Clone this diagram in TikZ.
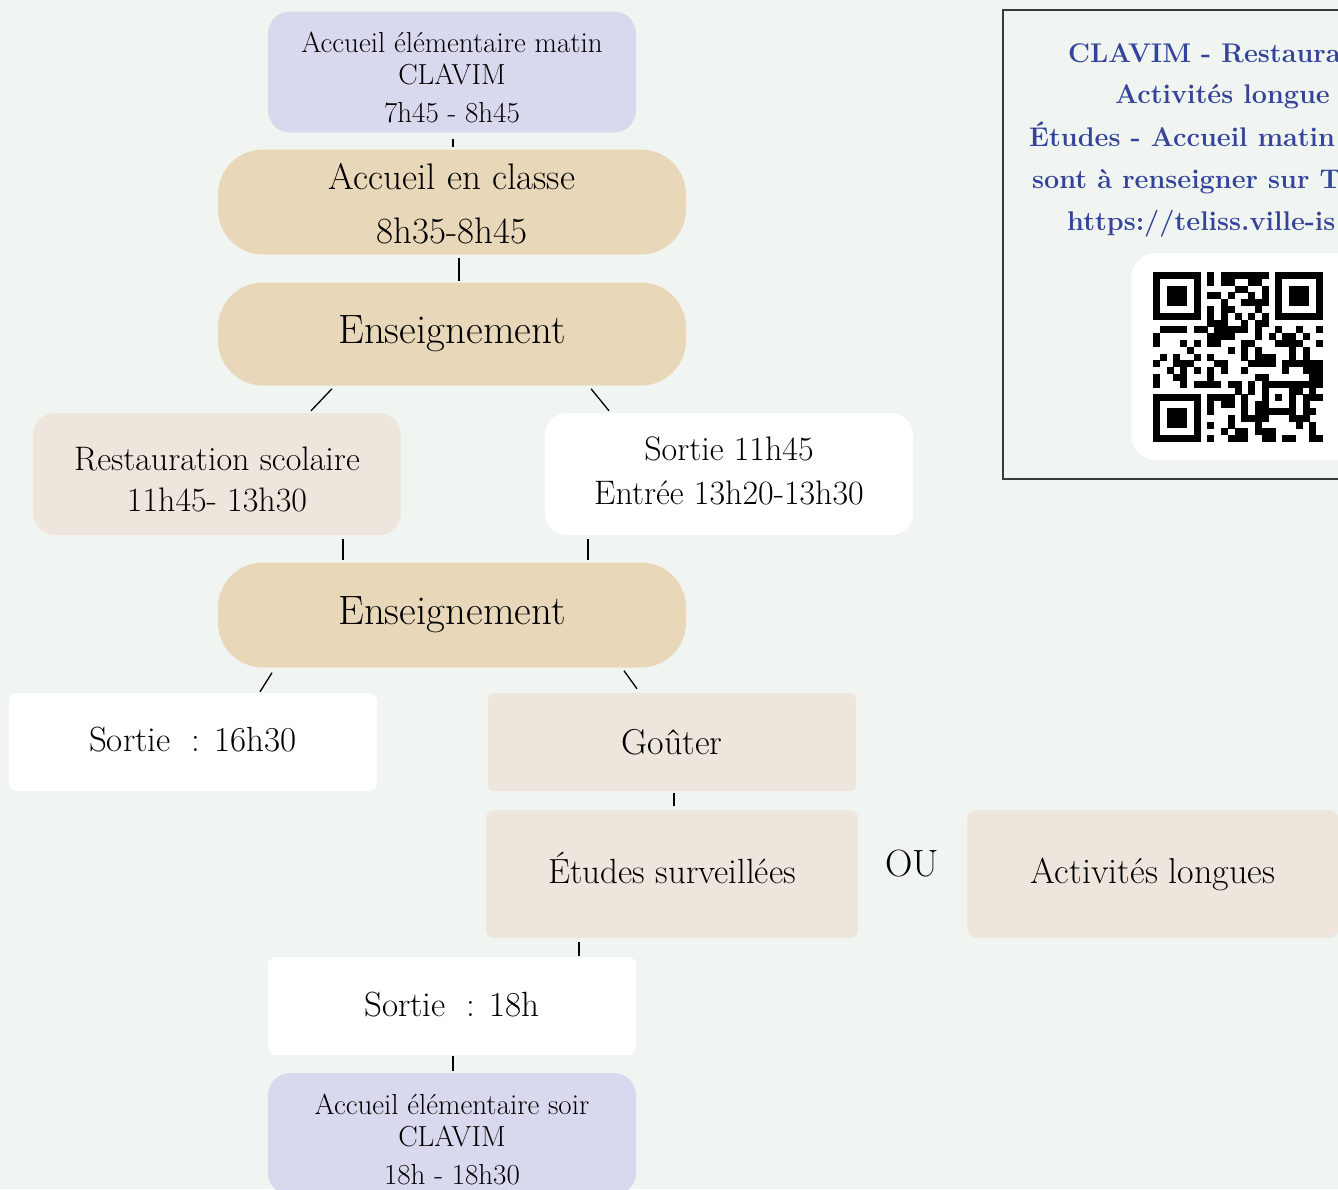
\documentclass[tikz,border=0pt]{standalone}
\usepackage{fontspec}
\usetikzlibrary{calc}
\definecolor{fond}{HTML}{F1F5F1}
\definecolor{lavande}{HTML}{D8D9EF}
\definecolor{sable}{HTML}{E8D8B9}
\definecolor{lin}{HTML}{EEE6DC}
\definecolor{bleu}{HTML}{34449A}
\definecolor{cadre}{HTML}{3A3A3A}
\newcommand{\taille}[2]{\fontsize{#1}{#2}\selectfont}
\newcommand{\haut}[1]{\rule{0pt}{#1}}
\newcommand{\bas}[1]{\rule[-#1]{0pt}{#1}}
\begin{document}
\begin{tikzpicture}[x=1pt,y=-1pt,
  boite/.style={draw=none,inner sep=0pt,align=center,minimum width=368pt,rounded corners=#1},
  boite/.default=22pt,
  pilule/.style={boite=45pt,fill=sable,minimum width=468pt},
  lien/.style={line width=1.3pt},
  info/.style={anchor=base west,inner sep=0pt,text=bleu,font=\bfseries\taille{27}{27}}]
\useasboundingbox (0,0) rectangle (1338,1189);
\clip (0,0) rectangle (1338,1189);
\fill[fond] (0,0) rectangle (1338,1189);

\node[boite,fill=lavande,minimum height=121pt,font=\taille{29}{32}] (matin) at (452,72)
  {\haut{31pt}Accueil élémentaire matin\\CLAVIM\\[6pt]7h45 - 8h45};
\node[pilule,minimum height=105pt,font=\taille{37}{54}] (classe) at (452,202)
  {\haut{30pt}Accueil en classe\\8h35-8h45};
\node[pilule,minimum height=103pt,font=\taille{41}{41}] (ens1) at (452,334)
  {Enseignement};
\node[boite,fill=lin,minimum height=122pt,font=\taille{34}{41}] (resto) at (217,474)
  {\haut{34pt}Restauration scolaire\\11h45- 13h30};
\node[boite,fill=white,minimum height=122pt,font=\taille{34}{44}] (sortie1) at (729,474)
  {Sortie 11h45\\Entrée 13h20-13h30\bas{6pt}};
\node[pilule,minimum height=105pt,font=\taille{41}{41}] (ens2) at (452,615)
  {Enseignement};
\node[boite=8pt,fill=white,minimum height=98pt,font=\taille{35}{35}] (sortie2) at (193,742)
  {Sortie~ : 16h30\bas{6pt}};
\node[boite=5pt,fill=lin,minimum height=98pt,font=\taille{36}{36}] (gouter) at (672,742)
  {Goûter};
\node[boite=8pt,fill=lin,minimum width=372pt,minimum height=128pt,font=\taille{35}{35}] (etudes) at (672,874)
  {Études surveillées\bas{12pt}};
\node[inner sep=0pt,font=\taille{38}{38}] (ou) at (912,864) {OU};
\node[boite=10pt,fill=lin,minimum width=372pt,minimum height=128pt,font=\taille{36}{36}] (activ) at (1153,874)
  {Activités longues};
\node[boite=8pt,fill=white,minimum height=98pt,font=\taille{35}{35}] (sortie3) at (452,1006)
  {Sortie~ : 18h\bas{4pt}};
\node[boite,fill=lavande,minimum height=122pt,font=\taille{29}{32}] (soir) at (452,1134)
  {\haut{31pt}Accueil élémentaire soir\\CLAVIM\\[6pt]18h - 18h30};

\draw[lien] ($(matin.south)+(1,6)$) -- ($(classe.north)+(1,-2)$);
\draw[lien] ($(classe.south)+(7,3)$) -- ($(ens1.north)+(7,-1)$);
\draw[lien] ($(ens1.south)+(-120,3)$) -- ($(resto.north)+(94,-2)$);
\draw[lien] ($(ens1.south)+(139,3)$) -- ($(sortie1.north)+(-120,-2)$);
\draw[lien] ($(resto.south)+(126,4)$) -- ($(ens2.north)+(-109,-2)$);
\draw[lien] ($(sortie1.south)+(-141,4)$) -- ($(ens2.north)+(136,-2)$);
\draw[lien] ($(ens2.south)+(-180,5)$) -- ($(sortie2.north)+(67,-1)$);
\draw[lien] ($(ens2.south)+(172,3)$) -- ($(gouter.north)+(-35,-4)$);
\draw[lien] ($(gouter.south)+(2,2)$) -- ($(etudes.north)+(2,-4)$);
\draw[lien] ($(etudes.south)+(-93,4)$) -- ($(sortie3.north)+(127,-1)$);
\draw[lien] ($(sortie3.south)+(1,1)$) -- ($(soir.north)+(1,-2)$);

\draw[cadre,line width=1.2pt] (1003,10) rectangle (1350,479);
\node[info] (l1) at (1068,62) {CLAVIM - Restaura};
\node[info] (l2) at (1115,103) {Activités longue};
\node[info] (l3) at (1029,146) {Études - Accueil matin};
\node[info] (l4) at (1032,188) {sont à renseigner sur T};
\node[info] (l5) at (1067,230) {https://teliss.ville-is};

\fill[white,rounded corners=25pt] (1131,253) rectangle (1360,460);
\pgfmathsetseed{11}
\foreach \i in {0,...,24}{
  \foreach \j in {0,...,24}{
    \pgfmathtruncatemacro\on{(rnd>0.5)*!((\i<8&&\j<8)||(\i>16&&\j<8)||(\i<8&&\j>16)||(\i>15&&\i<21&&\j>15&&\j<21)||\i==6||\j==6)}
    \ifnum\on>0 \fill (1153+\i*6.8,272+\j*6.8) rectangle ++(6.9,6.9);\fi
  }
}
\foreach \a/\b in {0/0,18/0,0/18}{
  \fill (1153+\a*6.8,272+\b*6.8) rectangle ++(47.6,47.6);
  \fill[white] (1153+\a*6.8+6.8,272+\b*6.8+6.8) rectangle ++(34,34);
  \fill (1153+\a*6.8+13.6,272+\b*6.8+13.6) rectangle ++(20.4,20.4);
}
\fill (1153+16*6.8,272+16*6.8) rectangle ++(34,34);
\fill[white] (1153+17*6.8,272+17*6.8) rectangle ++(20.4,20.4);
\fill (1153+18*6.8,272+18*6.8) rectangle ++(6.8,6.8);
\foreach \k in {8,10,...,16}{
  \fill (1153+\k*6.8,272+6*6.8) rectangle ++(6.9,6.9);
  \fill (1153+6*6.8,272+\k*6.8) rectangle ++(6.9,6.9);
}
\end{tikzpicture}
\end{document}
